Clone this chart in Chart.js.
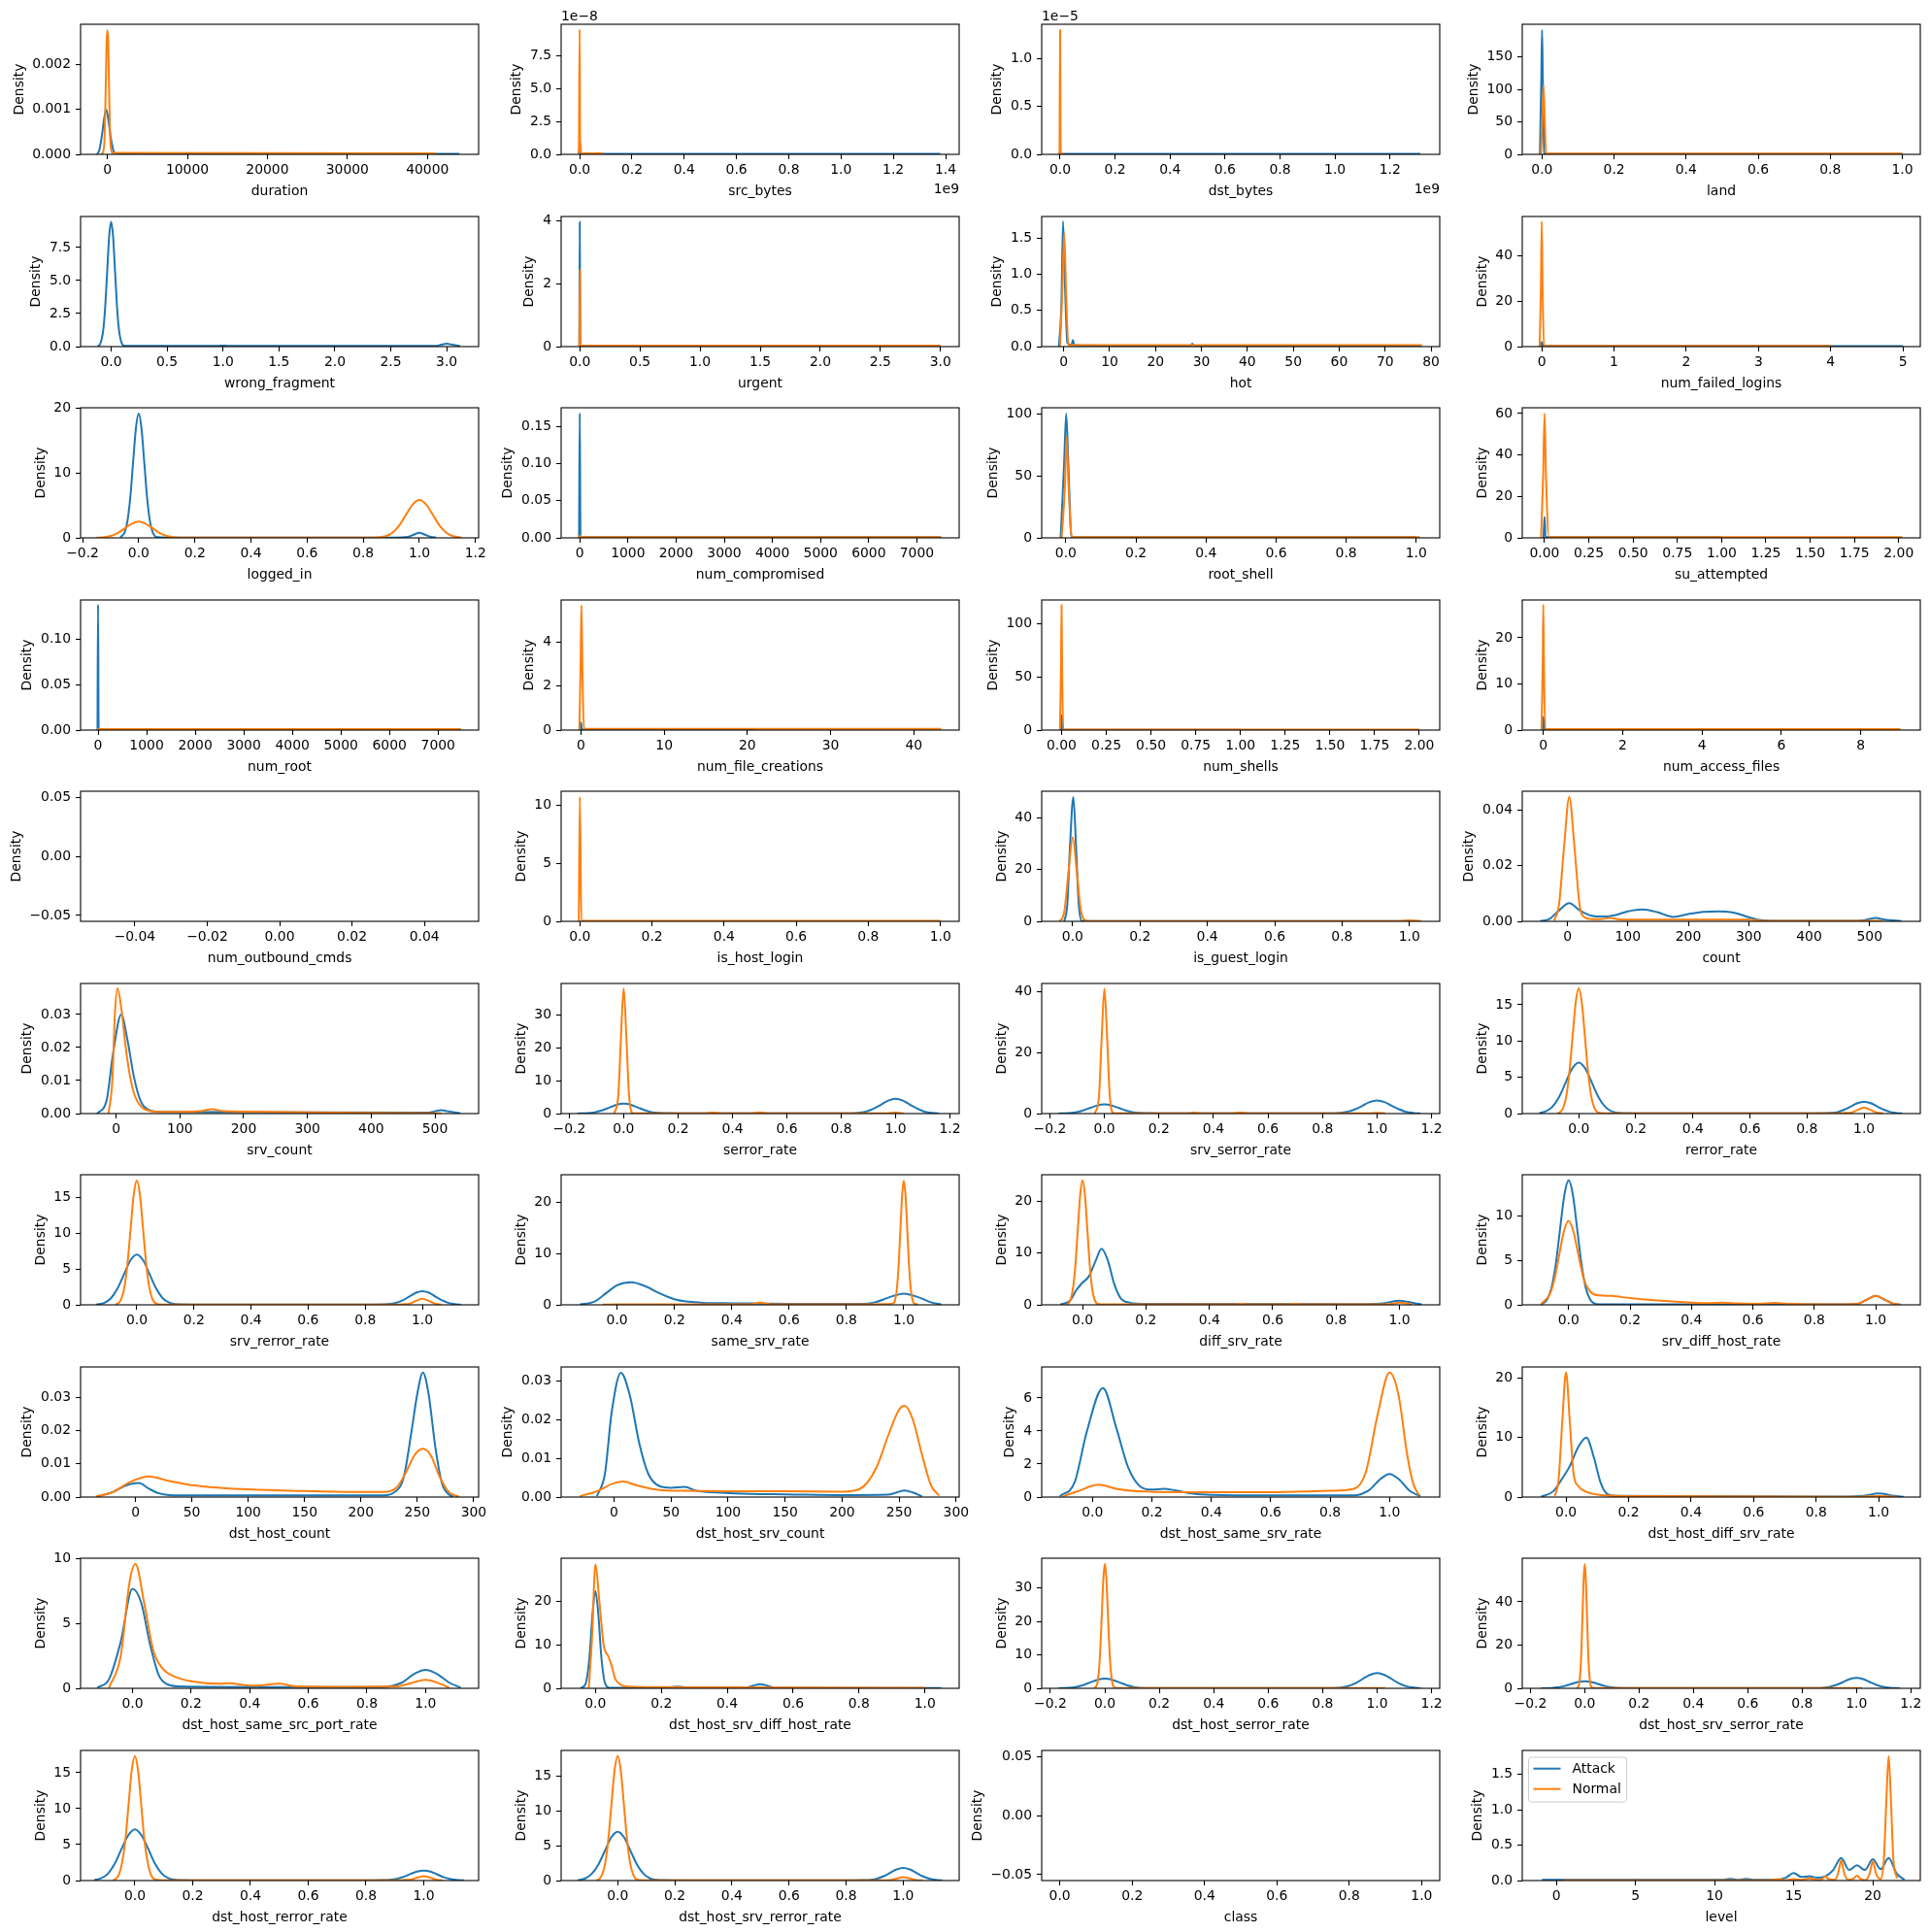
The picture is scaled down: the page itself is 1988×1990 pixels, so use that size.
<!DOCTYPE html>
<html>
<head>
<meta charset="utf-8">
<script src="https://cdn.jsdelivr.net/npm/chart.js@4.4.0/dist/chart.umd.min.js"></script>
<style>
  html,body{margin:0;padding:0;background:#fff;}
  body{width:1988px;height:1990px;position:relative;overflow:hidden;}
  canvas{position:absolute;}
</style>
</head>
<body>
<script>
// ---------------- categories ----------------
const features = ["duration","src_bytes","dst_bytes","land","wrong_fragment","urgent","hot","num_failed_logins",
  "logged_in","num_compromised","root_shell","su_attempted","num_root","num_file_creations","num_shells","num_access_files",
  "num_outbound_cmds","is_host_login","is_guest_login","count","srv_count","serror_rate","srv_serror_rate","rerror_rate",
  "srv_rerror_rate","same_srv_rate","diff_srv_rate","srv_diff_host_rate","dst_host_count","dst_host_srv_count","dst_host_same_srv_rate","dst_host_diff_srv_rate",
  "dst_host_same_src_port_rate","dst_host_srv_diff_host_rate","dst_host_serror_rate","dst_host_srv_serror_rate","dst_host_rerror_rate","dst_host_srv_rerror_rate","class","level"];
const seriesNames = ["Attack","Normal"];

// ---------------- tick labels ----------------
const xt_duration = ["0","10000","20000","30000","40000"];
const xt_bytes14 = ["0.0","0.2","0.4","0.6","0.8","1.0","1.2","1.4"];
const xt_bytes12 = ["0.0","0.2","0.4","0.6","0.8","1.0","1.2"];
const xt_unit = ["0.0","0.2","0.4","0.6","0.8","1.0"];
const xt_unitWide = ["\u22120.2","0.0","0.2","0.4","0.6","0.8","1.0","1.2"];
const xt_three = ["0.0","0.5","1.0","1.5","2.0","2.5","3.0"];
const xt_hot = ["0","10","20","30","40","50","60","70","80"];
const xt_five = ["0","1","2","3","4","5"];
const xt_7000 = ["0","1000","2000","3000","4000","5000","6000","7000"];
const xt_two = ["0.00","0.25","0.50","0.75","1.00","1.25","1.50","1.75","2.00"];
const xt_forty = ["0","10","20","30","40"];
const xt_eight = ["0","2","4","6","8"];
const xt_outbound = ["\u22120.04","\u22120.02","0.00","0.02","0.04"];
const xt_500 = ["0","100","200","300","400","500"];
const xt_300 = ["0","50","100","150","200","250","300"];
const xt_level = ["0","5","10","15","20"];

const yt_duration = ["0.000","0.001","0.002"];
const yt_25 = ["0.0","2.5","5.0","7.5"];
const yt_half15 = ["0.0","0.5","1.0","1.5"];
const yt_half10 = ["0.0","0.5","1.0"];
const yt_150 = ["0","50","100","150"];
const yt_100 = ["0","50","100"];
const yt_024 = ["0","2","4"];
const yt_0246 = ["0","2","4","6"];
const yt_0_40 = ["0","20","40"];
const yt_0_60 = ["0","20","40","60"];
const yt_0_20 = ["0","10","20"];
const yt_0_30 = ["0","10","20","30"];
const yt_0_10 = ["0","5","10"];
const yt_0_15 = ["0","5","10","15"];
const yt_015 = ["0.00","0.05","0.10","0.15"];
const yt_010 = ["0.00","0.05","0.10"];
const yt_empty = ["\u22120.05","0.00","0.05"];
const yt_004 = ["0.00","0.02","0.04"];
const yt_003 = ["0.00","0.01","0.02","0.03"];

// ---------------- series values [x, density] ----------------
const attack_duration = [[-1300,0],[-1000,0.0001],[-700,0.0004],[-400,0.0008],[-150,0.001],[100,0.0008],[400,0.0004],[700,0.00012],[1000,0.00003],[2000,0.00002],[44000,0.00001]];
const normal_duration = [[-700,0],[-400,0.0002],[-250,0.0011],[-100,0.0025],[0,0.00277],[100,0.0025],[250,0.0011],[400,0.0002],[700,0.00003],[41000,0.00002]];
const attack_src_bytes = [[-0.004,0],[0,0.55],[0.004,0.05],[1.38,0.03]];
const normal_src_bytes = [[-0.003,0],[0,9.5],[0.002,0.3],[0.003,0.93],[0.005,0.1],[0.09,0.08]];
const attack_dst_bytes = [[-0.003,0],[0,0.02],[0.003,0.005],[1.31,0.005]];
const normal_dst_bytes = [[-0.002,0],[0,1.296],[0.002,0.006],[0.011,0.005]];
const attack_land = [[-0.006,0],[-0.002,120],[0,191],[0.002,120],[0.006,2],[0.01,0.8],[1.0,0.8]];
const normal_land = [[-0.003,0],[0.001,60],[0.004,106],[0.007,60],[0.011,1],[1.0,1]];
const attack_wrong_fragment = [[-0.12,0.03],[-0.1,0.16],[-0.07,1.28],[-0.0525,3.07],[-0.035,5.73],[-0.0175,8.34],[0,9.45],[0.0175,8.34],[0.035,5.73],[0.0525,3.07],[0.07,1.28],[0.1,0.16],[0.12,0.05],[0.95,0.05],[1.0,0.08],[1.05,0.05],[2.9,0.05],[2.95,0.14],[3.0,0.22],[3.05,0.14],[3.12,0.03]];
const attack_urgent = [[-0.004,0],[0,3.95],[0.004,0.02],[3.0,0.01]];
const normal_urgent = [[-0.003,0],[0.002,2.45],[0.006,0.03],[3.0,0.03]];
const attack_hot = [[-1.05,0],[-0.5,0.6],[-0.15,1.737],[0.25,0.9],[0.8,0.05],[1.7,0.02],[2.0,0.09],[2.3,0.02],[27.6,0.01],[28,0.04],[28.4,0.01],[78,0.01]];
const normal_hot = [[-0.8,0],[-0.3,0.8],[0.1,1.57],[0.5,0.8],[1.0,0.02],[78,0.02]];
const attack_num_failed_logins = [[-0.02,0],[0,2],[0.02,0.2],[5.0,0.2]];
const normal_num_failed_logins = [[-0.03,0],[-0.012,25],[0,55],[0.012,25],[0.03,0.3],[4.0,0.3]];
const attack_logged_in = [[-0.065,0.1],[-0.05,0.84],[-0.04,2.6],[-0.03,6.2],[-0.02,11.6],[-0.01,16.9],[0,19.2],[0.01,16.9],[0.02,11.6],[0.03,6.2],[0.04,2.6],[0.05,0.84],[0.065,0.1],[0.1,0.05],[0.92,0.05],[0.94,0.06],[0.96,0.15],[0.98,0.48],[1.0,0.78],[1.02,0.48],[1.04,0.15],[1.06,0.05]];
const normal_logged_in = [[-0.15,0.02],[-0.12,0.11],[-0.096,0.34],[-0.072,0.81],[-0.048,1.52],[-0.024,2.2],[0,2.5],[0.024,2.2],[0.048,1.52],[0.072,0.81],[0.096,0.34],[0.12,0.11],[0.15,0.03],[0.2,0.02],[0.8,0.02],[0.85,0.06],[0.88,0.26],[0.904,0.79],[0.928,1.9],[0.952,3.55],[0.976,5.16],[1.0,5.85],[1.024,5.16],[1.048,3.55],[1.072,1.9],[1.096,0.79],[1.12,0.26],[1.15,0.05]];
const attack_num_compromised = [[-15,0],[0,0.168],[15,0.001],[7500,0.001]];
const normal_num_compromised = [[-15,0],[0,0.003],[15,0.001],[7500,0.001]];
const attack_root_shell = [[-0.015,0],[-0.005,60],[0.001,100.5],[0.007,60],[0.016,0.5],[1.0,0.5]];
const normal_root_shell = [[-0.012,0],[-0.003,40],[0.002,81.7],[0.008,40],[0.017,0.6],[1.01,0.6]];
const attack_su_attempted = [[-0.006,0],[0,10.2],[0.006,0.3],[1.0,0.3]];
const normal_su_attempted = [[-0.02,0],[-0.008,30],[0,60],[0.008,30],[0.025,0.4],[2.02,0.4]];
const attack_num_root = [[-12,0],[0,0.138],[12,0.0005],[7470,0.0005]];
const normal_num_root = [[-12,0],[0,0.001],[12,0.001],[7470,0.001]];
const attack_num_file_creations = [[-0.12,0],[0,0.34],[0.12,0.02],[21,0.02]];
const normal_num_file_creations = [[-0.2,0],[-0.05,3],[0.05,5.67],[0.18,2.5],[0.35,0.05],[43.3,0.05]];
const attack_num_shells = [[-0.005,0],[0,14.2],[0.005,0.2],[1.0,0.2]];
const normal_num_shells = [[-0.009,0],[-0.003,60],[0,117.8],[0.003,60],[0.01,0.5],[2.0,0.5]];
const attack_num_access_files = [[-0.025,0],[0,2.84],[0.025,0.1],[2.0,0.1]];
const normal_num_access_files = [[-0.045,0],[-0.015,14],[0,27.2],[0.015,14],[0.05,0.2],[9.0,0.2]];
const normal_is_host_login = [[-0.003,0],[0,10.7],[0.004,0.05],[1.0,0.05]];
const attack_is_guest_login = [[-0.025,0],[-0.016,6.5],[-0.008,29],[0.002,48],[0.01,29],[0.018,6.5],[0.027,0.2],[0.05,0.1],[1.0,0.1]];
const normal_is_guest_login = [[-0.04,0.1],[-0.03,1.4],[-0.024,4.4],[-0.012,19.6],[0,32.4],[0.012,19.6],[0.024,4.4],[0.036,0.5],[0.05,0.1],[0.97,0.1],[0.985,0.25],[1.0,0.35],[1.015,0.25],[1.035,0.1]];
const attack_count = [[-45,0.0001],[-30,0.0008],[-15,0.0037],[3,0.0065],[20,0.004],[40,0.002],[60,0.0017],[80,0.0023],[100,0.0036],[125,0.0043],[150,0.0032],[175,0.0016],[200,0.0026],[225,0.0034],[250,0.0036],[275,0.0031],[300,0.0015],[320,0.0004],[350,0.0002],[480,0.0002],[495,0.0006],[510,0.0012],[525,0.0006],[553,0.0001]];
const normal_count = [[-22,0.0003],[-14,0.006],[-5.5,0.027],[3,0.0447],[11.5,0.027],[20,0.006],[28,0.0015],[40,0.0008],[55,0.0008],[70,0.0012],[85,0.0007],[100,0.0006],[300,0.0006],[320,0.0002],[520,0.0002]];
const attack_srv_count = [[-30,0],[-15,0.004],[-5,0.018],[8,0.030],[18,0.022],[28,0.011],[38,0.004],[50,0.0012],[70,0.0005],[490,0.0003],[500,0.0007],[510,0.001],[520,0.0007],[540,0.0001]];
const normal_srv_count = [[-12,0],[-6,0.01],[-2,0.03],[2,0.0379],[8,0.032],[15,0.02],[22,0.011],[30,0.005],[40,0.002],[60,0.0006],[100,0.0005],[130,0.0007],[150,0.0013],[170,0.0007],[200,0.0006],[300,0.0004],[400,0.0002],[510,0.0001]];
const attack_serror_rate = [[-0.17,0.02],[-0.13,0.15],[-0.106,0.41],[-0.08,0.97],[-0.053,1.82],[-0.027,2.65],[0,3.0],[0.027,2.65],[0.053,1.82],[0.08,0.97],[0.106,0.41],[0.15,0.12],[0.2,0.08],[0.8,0.08],[0.841,0.1],[0.868,0.28],[0.894,0.68],[0.92,1.5],[0.947,2.73],[0.973,3.97],[1.0,4.5],[1.027,3.97],[1.053,2.73],[1.08,1.5],[1.106,0.61],[1.133,0.2],[1.16,0.03]];
const normal_serror_rate = [[-0.035,0.1],[-0.02,5.2],[-0.01,23.2],[0,38.2],[0.01,23.2],[0.02,5.2],[0.035,0.1],[0.3,0.1],[0.33,0.3],[0.36,0.1],[0.47,0.1],[0.5,0.4],[0.53,0.1],[0.97,0.1],[1.0,0.3],[1.03,0.1]];
const attack_srv_serror_rate = [[-0.17,0.02],[-0.13,0.15],[-0.106,0.41],[-0.08,0.97],[-0.053,1.82],[-0.027,2.65],[0,3.0],[0.027,2.65],[0.053,1.82],[0.08,0.97],[0.106,0.41],[0.15,0.12],[0.2,0.08],[0.8,0.08],[0.841,0.1],[0.868,0.27],[0.894,0.65],[0.92,1.43],[0.947,2.6],[0.973,3.8],[1.0,4.3],[1.027,3.8],[1.053,2.6],[1.08,1.43],[1.106,0.58],[1.133,0.19],[1.16,0.03]];
const normal_srv_serror_rate = [[-0.035,0.1],[-0.02,5.5],[-0.01,24.9],[0,41],[0.01,24.9],[0.02,5.5],[0.035,0.1],[0.3,0.1],[0.33,0.3],[0.36,0.1],[0.47,0.1],[0.5,0.35],[0.53,0.1],[0.97,0.1],[1.0,0.25],[1.03,0.1]];
const attack_rerror_rate = [[-0.138,0.08],[-0.115,0.31],[-0.092,0.95],[-0.069,2.28],[-0.046,4.26],[-0.023,6.2],[0,7.03],[0.023,6.2],[0.046,4.26],[0.069,2.28],[0.092,0.95],[0.115,0.31],[0.138,0.1],[0.2,0.05],[0.82,0.05],[0.862,0.07],[0.885,0.1],[0.908,0.22],[0.931,0.53],[0.954,0.98],[0.977,1.43],[1.0,1.62],[1.023,1.43],[1.046,0.98],[1.069,0.53],[1.092,0.22],[1.115,0.07],[1.134,0.02]];
const normal_rerror_rate = [[-0.075,0.03],[-0.066,0.19],[-0.055,0.76],[-0.044,2.33],[-0.033,5.6],[-0.022,10.46],[-0.011,15.2],[0,17.25],[0.011,15.2],[0.022,10.46],[0.033,5.6],[0.044,2.33],[0.055,0.76],[0.066,0.19],[0.09,0.05],[0.92,0.05],[0.944,0.1],[0.956,0.14],[0.978,0.52],[1.0,0.8],[1.022,0.52],[1.044,0.14],[1.066,0.04]];
const attack_srv_rerror_rate = [[-0.142,0.05],[-0.113,0.3],[-0.09,0.95],[-0.068,2.27],[-0.045,4.25],[-0.023,6.16],[0,7.0],[0.023,6.16],[0.045,4.25],[0.068,2.27],[0.09,0.95],[0.113,0.31],[0.135,0.1],[0.2,0.05],[0.82,0.05],[0.865,0.06],[0.888,0.12],[0.91,0.3],[0.933,0.66],[0.955,1.18],[0.978,1.7],[1.0,1.9],[1.023,1.7],[1.045,1.18],[1.068,0.66],[1.09,0.29],[1.113,0.1],[1.135,0.03]];
const normal_srv_rerror_rate = [[-0.075,0.03],[-0.066,0.19],[-0.055,0.76],[-0.044,2.35],[-0.033,5.63],[-0.022,10.52],[-0.011,15.3],[0,17.35],[0.011,15.3],[0.022,10.52],[0.033,5.63],[0.044,2.35],[0.055,0.76],[0.066,0.19],[0.09,0.05],[0.92,0.05],[0.945,0.11],[0.956,0.16],[0.978,0.55],[1.0,0.86],[1.022,0.55],[1.044,0.16],[1.066,0.04]];
const attack_same_srv_rate = [[-0.13,0.05],[-0.08,0.6],[-0.04,2.2],[0,3.8],[0.05,4.4],[0.1,3.6],[0.15,2.2],[0.2,1.1],[0.25,0.6],[0.3,0.4],[0.4,0.3],[0.5,0.25],[0.6,0.2],[0.85,0.2],[0.9,0.5],[0.95,1.5],[1.0,2.2],[1.05,1.5],[1.1,0.4],[1.13,0.1]];
const normal_same_srv_rate = [[-0.05,0.05],[0.0,0.1],[0.45,0.1],[0.476,0.2],[0.488,0.35],[0.5,0.45],[0.512,0.35],[0.524,0.2],[0.55,0.1],[0.9,0.1],[0.94,0.15],[0.964,0.3],[0.97,1.06],[0.976,3.27],[0.982,7.86],[0.988,14.68],[0.994,21.36],[1.0,24.2],[1.006,21.36],[1.012,14.68],[1.018,7.86],[1.024,3.27],[1.03,1.06],[1.036,0.27],[1.05,0.05]];
const attack_diff_srv_rate = [[-0.07,0.05],[-0.04,0.8],[-0.02,2.8],[0,4.3],[0.02,5.5],[0.04,8.3],[0.06,10.8],[0.08,8.5],[0.1,4],[0.12,1.3],[0.15,0.4],[0.2,0.2],[0.9,0.15],[0.95,0.3],[1.0,0.8],[1.05,0.3],[1.07,0.1]];
const normal_diff_srv_rate = [[-0.05,0.05],[-0.045,0.27],[-0.0375,1.05],[-0.03,3.25],[-0.0225,7.8],[-0.015,14.6],[-0.0075,21.2],[0,24],[0.0075,21.2],[0.015,14.6],[0.0225,7.8],[0.03,3.25],[0.0375,1.05],[0.045,0.27],[0.06,0.1],[0.48,0.1],[0.5,0.2],[0.52,0.1],[0.65,0.1],[0.67,0.2],[0.69,0.1],[0.96,0.1],[1.0,0.4],[1.04,0.1]];
const attack_srv_diff_host_rate = [[-0.09,0.05],[-0.084,0.15],[-0.07,0.61],[-0.056,1.89],[-0.042,4.53],[-0.028,8.47],[-0.014,12.3],[0,13.96],[0.014,12.3],[0.028,8.47],[0.042,4.53],[0.056,1.89],[0.07,0.61],[0.084,0.15],[0.1,0.05],[0.9,0.05],[0.944,0.14],[0.972,0.6],[1.0,1.0],[1.028,0.6],[1.056,0.14],[1.08,0.02]];
const normal_srv_diff_host_rate = [[-0.09,0.1],[-0.06,1.27],[-0.045,3.06],[-0.03,5.71],[-0.015,8.31],[0,9.42],[0.015,8.3],[0.03,5.9],[0.05,2.8],[0.07,1.5],[0.1,1.05],[0.14,1.0],[0.2,0.75],[0.3,0.45],[0.4,0.25],[0.45,0.2],[0.5,0.25],[0.55,0.15],[0.62,0.12],[0.67,0.22],[0.72,0.1],[0.9,0.05],[0.944,0.14],[0.972,0.6],[1.0,1.0],[1.028,0.6],[1.056,0.14],[1.08,0.02]];
const attack_dst_host_count = [[-35,0.0001],[-20,0.0015],[-10,0.0033],[3,0.0042],[12,0.0025],[20,0.0012],[30,0.0006],[50,0.0005],[220,0.0005],[230,0.0015],[238,0.006],[245,0.02],[250,0.031],[255,0.0374],[260,0.031],[266,0.015],[272,0.004],[278,0.0008],[282,0.0001]];
const normal_dst_host_count = [[-35,0.0002],[-20,0.0015],[-5,0.0045],[12,0.0062],[30,0.0048],[50,0.0036],[75,0.0028],[100,0.0023],[150,0.0018],[200,0.0015],[220,0.0015],[232,0.003],[240,0.0075],[248,0.0128],[255,0.0145],[262,0.0125],[270,0.006],[278,0.0015],[287,0.0001]];
const attack_dst_host_srv_count = [[-15,0.0002],[-8,0.006],[-2,0.022],[6,0.032],[14,0.026],[22,0.014],[30,0.006],[40,0.0028],[50,0.0024],[62,0.0026],[72,0.0016],[90,0.0012],[120,0.0008],[150,0.0007],[200,0.0005],[240,0.0006],[248,0.0012],[255,0.0017],[262,0.0012],[270,0.0002]];
const normal_dst_host_srv_count = [[-30,0.0002],[-15,0.0015],[0,0.0036],[8,0.004],[20,0.003],[40,0.0018],[60,0.0016],[100,0.0015],[150,0.0015],[200,0.0014],[215,0.002],[230,0.0075],[240,0.0155],[250,0.0225],[255,0.0235],[262,0.02],[270,0.011],[278,0.003],[285,0.0004]];
const attack_dst_host_same_srv_rate = [[-0.11,0.05],[-0.06,0.9],[-0.02,3.9],[0.035,6.6],[0.08,4.2],[0.12,1.8],[0.16,0.65],[0.2,0.45],[0.24,0.5],[0.28,0.4],[0.34,0.2],[0.4,0.13],[0.6,0.1],[0.88,0.1],[0.93,0.4],[0.97,1.1],[1.0,1.4],[1.03,1.1],[1.07,0.35],[1.104,0.05]];
const normal_dst_host_same_srv_rate = [[-0.1,0.05],[-0.05,0.35],[0.02,0.75],[0.08,0.5],[0.15,0.35],[0.3,0.3],[0.6,0.3],[0.8,0.38],[0.88,0.5],[0.92,1.5],[0.96,5],[1.0,7.54],[1.03,6.2],[1.06,2.5],[1.08,0.8],[1.1,0.1]];
const attack_dst_host_diff_srv_rate = [[-0.08,0.05],[-0.04,1.0],[-0.01,3.3],[0.01,5],[0.04,8.5],[0.065,10],[0.09,6.5],[0.11,2.5],[0.13,0.6],[0.16,0.2],[0.9,0.1],[0.95,0.2],[1.0,0.6],[1.05,0.2],[1.08,0.05]];
const normal_dst_host_diff_srv_rate = [[-0.036,0.2],[-0.024,2.8],[-0.012,12.7],[0,21],[0.012,12.7],[0.024,4],[0.04,1.8],[0.06,1.0],[0.1,0.4],[0.2,0.15],[0.9,0.05],[1.0,0.15],[1.06,0.05]];
const attack_dst_host_same_src_port_rate = [[-0.12,0.05],[-0.08,0.7],[-0.04,3.6],[0,7.68],[0.03,6.6],[0.06,3.4],[0.09,1.0],[0.12,0.3],[0.16,0.15],[0.5,0.1],[0.85,0.1],[0.92,0.45],[0.96,1.1],[1.0,1.43],[1.04,1.1],[1.08,0.45],[1.12,0.05]];
const normal_dst_host_same_src_port_rate = [[-0.08,0.05],[-0.04,2.5],[-0.01,8.2],[0.01,9.6],[0.04,6.6],[0.07,3.0],[0.1,1.6],[0.15,0.85],[0.2,0.55],[0.3,0.35],[0.33,0.4],[0.38,0.25],[0.42,0.2],[0.5,0.35],[0.56,0.15],[0.7,0.12],[0.9,0.15],[0.95,0.4],[1.0,0.65],[1.05,0.35],[1.08,0.05]];
const attack_dst_host_srv_diff_host_rate = [[-0.045,0.05],[-0.03,1.0],[-0.018,7.2],[-0.009,16.9],[0,22.3],[0.009,16.9],[0.018,7.2],[0.03,1.0],[0.045,0.1],[0.2,0.1],[0.25,0.4],[0.3,0.1],[0.45,0.1],[0.5,0.97],[0.55,0.1],[1.05,0.05]];
const normal_dst_host_srv_diff_host_rate = [[-0.02,0.05],[-0.01,12],[0,28.5],[0.012,20],[0.025,10],[0.04,7.2],[0.05,5],[0.06,2.2],[0.08,0.7],[0.1,0.4],[0.2,0.3],[0.4,0.2],[0.6,0.15],[1.0,0.1]];
const attack_dst_host_serror_rate = [[-0.17,0.02],[-0.134,0.13],[-0.107,0.39],[-0.08,0.94],[-0.054,1.76],[-0.027,2.56],[0,2.9],[0.027,2.56],[0.054,1.76],[0.08,0.94],[0.107,0.39],[0.15,0.1],[0.2,0.07],[0.8,0.07],[0.84,0.1],[0.866,0.25],[0.893,0.66],[0.92,1.48],[0.946,2.76],[0.973,4.0],[1.0,4.55],[1.027,4.0],[1.054,2.76],[1.08,1.48],[1.107,0.62],[1.134,0.2],[1.16,0.05]];
const normal_dst_host_serror_rate = [[-0.04,0.05],[-0.033,0.4],[-0.0275,1.6],[-0.022,5.0],[-0.0165,12.1],[-0.011,22.6],[-0.0055,32.8],[0,37.2],[0.0055,32.8],[0.011,22.6],[0.0165,12.1],[0.022,5.0],[0.0275,1.6],[0.033,0.4],[0.045,0.1],[1.03,0.1]];
const attack_dst_host_srv_serror_rate = [[-0.16,0.02],[-0.123,0.15],[-0.098,0.45],[-0.074,1.07],[-0.049,2.0],[-0.025,2.91],[0,3.3],[0.025,2.91],[0.049,2.0],[0.074,1.07],[0.098,0.45],[0.14,0.1],[0.2,0.07],[0.8,0.07],[0.853,0.1],[0.877,0.25],[0.902,0.7],[0.926,1.56],[0.951,2.91],[0.975,4.24],[1.0,4.8],[1.025,4.24],[1.049,2.91],[1.074,1.56],[1.098,0.65],[1.123,0.21],[1.16,0.03]];
const normal_dst_host_srv_serror_rate = [[-0.03,0.05],[-0.024,0.6],[-0.02,2.5],[-0.016,7.8],[-0.012,18.7],[-0.008,34.9],[-0.004,50.7],[0,57.5],[0.004,50.7],[0.008,34.9],[0.012,18.7],[0.016,7.8],[0.02,2.5],[0.024,0.6],[0.035,0.1],[1.02,0.1]];
const attack_dst_host_rerror_rate = [[-0.14,0.06],[-0.117,0.31],[-0.093,0.97],[-0.07,2.32],[-0.047,4.33],[-0.023,6.3],[0,7.14],[0.023,6.3],[0.047,4.33],[0.07,2.32],[0.093,0.97],[0.117,0.33],[0.14,0.1],[0.2,0.05],[0.82,0.05],[0.86,0.07],[0.883,0.11],[0.907,0.24],[0.93,0.5],[0.953,0.9],[0.977,1.26],[1.0,1.4],[1.023,1.26],[1.047,0.85],[1.07,0.45],[1.093,0.19],[1.117,0.06],[1.14,0.02]];
const normal_dst_host_rerror_rate = [[-0.075,0.03],[-0.067,0.2],[-0.056,0.76],[-0.045,2.34],[-0.033,5.62],[-0.022,10.5],[-0.011,15.3],[0,17.3],[0.011,15.3],[0.022,10.5],[0.033,5.62],[0.045,2.34],[0.056,0.76],[0.067,0.2],[0.09,0.05],[0.92,0.05],[0.945,0.1],[0.955,0.13],[0.978,0.4],[1.0,0.6],[1.022,0.4],[1.045,0.1],[1.065,0.03]];
const attack_dst_host_srv_rerror_rate = [[-0.14,0.05],[-0.113,0.31],[-0.091,0.95],[-0.068,2.27],[-0.045,4.25],[-0.023,6.16],[0,7.0],[0.023,6.16],[0.045,4.25],[0.068,2.27],[0.091,0.95],[0.113,0.31],[0.136,0.1],[0.2,0.05],[0.82,0.05],[0.864,0.06],[0.887,0.12],[0.909,0.29],[0.932,0.63],[0.955,1.12],[0.977,1.6],[1.0,1.8],[1.023,1.6],[1.045,1.12],[1.068,0.63],[1.091,0.27],[1.113,0.09],[1.136,0.02]];
const normal_dst_host_srv_rerror_rate = [[-0.075,0.03],[-0.065,0.2],[-0.055,0.78],[-0.044,2.42],[-0.033,5.8],[-0.022,10.83],[-0.011,15.76],[0,17.86],[0.011,15.76],[0.022,10.83],[0.033,5.8],[0.044,2.42],[0.055,0.78],[0.065,0.2],[0.09,0.05],[0.92,0.05],[0.956,0.08],[0.978,0.32],[1.0,0.47],[1.022,0.32],[1.044,0.08],[1.065,0.03]];
const attack_level = [[-0.9,0.01],[10.5,0.01],[11,0.025],[11.5,0.01],[12,0.025],[12.5,0.01],[13.8,0.01],[14.5,0.04],[15,0.105],[15.5,0.05],[16,0.06],[16.5,0.04],[17,0.06],[17.5,0.15],[18,0.32],[18.5,0.15],[19,0.215],[19.5,0.15],[20,0.3],[20.5,0.16],[21,0.32],[21.5,0.1],[22,0.01]];
const normal_level = [[0.4,0.005],[13.5,0.005],[14,0.02],[14.5,0.005],[15,0.02],[15.5,0.01],[16,0.03],[16.5,0.01],[16.8,0.02],[17,0.06],[17.2,0.02],[17.6,0.01],[17.8,0.1],[17.9,0.2],[18,0.284],[18.1,0.2],[18.2,0.1],[18.45,0.01],[18.8,0.03],[19,0.069],[19.2,0.03],[19.5,0.005],[19.8,0.1],[19.9,0.2],[20,0.27],[20.1,0.2],[20.2,0.1],[20.5,0.02],[20.7,0.3],[20.85,1.1],[21,1.758],[21.15,1.1],[21.3,0.3],[21.53,0.03]];

// ---------------- per-panel axis setup ----------------
// [attack, normal, xRange, xTicks, yRange, yTicks, xOffsetText, yOffsetText]
const panelAxes = [
  [attack_duration, normal_duration, [-3350,46400], xt_duration, [0,0.0029], yt_duration],
  [attack_src_bytes, normal_src_bytes, [-0.071,1.452], xt_bytes14, [0,9.88], yt_25, "1e9", "1e\u22128"],
  [attack_dst_bytes, normal_dst_bytes, [-0.067,1.381], xt_bytes12, [0,1.357], yt_half10, "1e9", "1e\u22125"],
  [attack_land, normal_land, [-0.055,1.05], xt_unit, [0,200], yt_150],
  [attack_wrong_fragment, null, [-0.273,3.285], xt_three, [0,9.85], yt_25],
  [attack_urgent, normal_urgent, [-0.155,3.155], xt_three, [0,4.13], yt_024],
  [attack_hot, normal_hot, [-4.8,81.9], xt_hot, [0,1.805], yt_half15],
  [attack_num_failed_logins, normal_num_failed_logins, [-0.27,5.24], xt_five, [0,57.2], yt_0_40],
  [attack_logged_in, normal_logged_in, [-0.207,1.211], xt_unitWide, [0,20.1], yt_0_20],
  [attack_num_compromised, normal_num_compromised, [-387,7878], xt_7000, [0,0.1753], yt_015],
  [attack_root_shell, normal_root_shell, [-0.069,1.067], xt_unit, [0,105.2], yt_100],
  [attack_su_attempted, normal_su_attempted, [-0.126,2.122], xt_two, [0,62.8], yt_0_60],
  [attack_num_root, normal_num_root, [-360,7835], xt_7000, [0,0.143], yt_010],
  [attack_num_file_creations, normal_num_file_creations, [-2.39,45.46], xt_forty, [0,5.9], yt_024],
  [attack_num_shells, normal_num_shells, [-0.111,2.114], xt_two, [0,122.5], yt_100],
  [attack_num_access_files, normal_num_access_files, [-0.53,9.5], xt_eight, [0,28.2], yt_0_20],
  [null, null, [-0.055,0.055], xt_outbound, [-0.055,0.055], yt_empty],
  [null, normal_is_host_login, [-0.052,1.052], xt_unit, [0,11.2], yt_0_10],
  [attack_is_guest_login, normal_is_guest_login, [-0.092,1.09], xt_unit, [0,50.25], yt_0_40],
  [attack_count, normal_count, [-74.8,584], xt_500, [0,0.0467], yt_004],
  [attack_srv_count, normal_srv_count, [-55.8,568.5], xt_500, [0,0.0394], yt_003],
  [attack_serror_rate, normal_serror_rate, [-0.23,1.234], xt_unitWide, [0,39.7], yt_0_30],
  [attack_srv_serror_rate, normal_srv_serror_rate, [-0.23,1.23], xt_unitWide, [0,42.7], yt_0_40],
  [attack_rerror_rate, normal_rerror_rate, [-0.198,1.197], xt_unit, [0,17.93], yt_0_15],
  [attack_srv_rerror_rate, normal_srv_rerror_rate, [-0.197,1.197], xt_unit, [0,18.16], yt_0_15],
  [attack_same_srv_rate, normal_same_srv_rate, [-0.195,1.193], xt_unit, [0,25.4], yt_0_20],
  [attack_diff_srv_rate, normal_diff_srv_rate, [-0.129,1.127], xt_unit, [0,25.1], yt_0_20],
  [attack_srv_diff_host_rate, normal_srv_diff_host_rate, [-0.151,1.145], xt_unit, [0,14.6], yt_0_10],
  [attack_dst_host_count, normal_dst_host_count, [-48.7,304.4], xt_300, [0,0.0391], yt_003],
  [attack_dst_host_srv_count, normal_dst_host_srv_count, [-46.4,302.7], xt_300, [0,0.0335], yt_003],
  [attack_dst_host_same_srv_rate, normal_dst_host_same_srv_rate, [-0.171,1.169], xt_unit, [0,7.88], yt_0246],
  [attack_dst_host_diff_srv_rate, normal_dst_host_diff_srv_rate, [-0.14,1.133], xt_unit, [0,21.9], yt_0_20],
  [attack_dst_host_same_src_port_rate, normal_dst_host_same_src_port_rate, [-0.177,1.181], xt_unit, [0,10.05], yt_0_10],
  [attack_dst_host_srv_diff_host_rate, normal_dst_host_srv_diff_host_rate, [-0.104,1.104], xt_unit, [0,29.9], yt_0_20],
  [attack_dst_host_serror_rate, normal_dst_host_serror_rate, [-0.232,1.23], xt_unitWide, [0,38.9], yt_0_30],
  [attack_dst_host_srv_serror_rate, normal_dst_host_srv_serror_rate, [-0.23,1.235], xt_unitWide, [0,60.2], yt_0_40],
  [attack_dst_host_rerror_rate, normal_dst_host_rerror_rate, [-0.188,1.19], xt_unit, [0,18.1], yt_0_15],
  [attack_dst_host_srv_rerror_rate, normal_dst_host_srv_rerror_rate, [-0.198,1.196], xt_unit, [0,18.66], yt_0_15],
  [null, null, [-0.05,1.05], xt_unit, [-0.055,0.055], yt_empty],
  [attack_level, normal_level, [-2.15,23.0], xt_level, [0,1.837], yt_half15]
];

// ---------------- layout & style ----------------
const COLORS = ["#1f77b4", "#ff7f0e"];
const FONT_FAMILY = "'DejaVu Sans', 'Liberation Sans', sans-serif";
const FS = 13.9;
const COL_LEFT = [83, 578, 1073, 1568];
const ROW_TOP0 = 25, ROW_PITCH = 197.55;
const AW = 410, AH = 134;
const PL = 110, PT = 24, PR = 40, PB = 70;

Chart.defaults.font.family = FONT_FAMILY;
Chart.defaults.font.size = FS;
Chart.defaults.color = "#000";

const toNum = s => parseFloat(s.replace("\u2212", "-"));

const framePlugin = {
  id: "frame",
  afterDatasetsDraw(chart) {
    const a = chart.chartArea, ctx = chart.ctx;
    ctx.save();
    ctx.strokeStyle = "#000";
    ctx.lineWidth = 1.1;
    ctx.strokeRect(a.left, a.top, a.right - a.left, a.bottom - a.top);
    ctx.restore();
  }
};
const offsetPlugin = {
  id: "offsetText",
  afterDraw(chart, args, opts) {
    const a = chart.chartArea, ctx = chart.ctx;
    ctx.save();
    ctx.fillStyle = "#000";
    ctx.font = FS + "px " + FONT_FAMILY;
    ctx.textBaseline = "alphabetic";
    if (opts.y) { ctx.textAlign = "left"; ctx.fillText(opts.y, a.left, a.top - 4.5); }
    if (opts.x) { ctx.textAlign = "right"; ctx.fillText(opts.x, a.right, a.bottom + 39.5); }
    ctx.restore();
  }
};
const legendPlugin = {
  id: "boxLegend",
  afterDraw(chart, args, opts) {
    if (!opts.show) return;
    const a = chart.chartArea, ctx = chart.ctx;
    const x0 = a.left + 6.5, y0 = a.top + 7, w = 101, h = 46, r = 3;
    ctx.save();
    ctx.beginPath();
    ctx.moveTo(x0 + r, y0);
    ctx.arcTo(x0 + w, y0, x0 + w, y0 + h, r);
    ctx.arcTo(x0 + w, y0 + h, x0, y0 + h, r);
    ctx.arcTo(x0, y0 + h, x0, y0, r);
    ctx.arcTo(x0, y0, x0 + w, y0, r);
    ctx.closePath();
    ctx.fillStyle = "rgba(255,255,255,0.8)";
    ctx.fill();
    ctx.strokeStyle = "#cccccc";
    ctx.lineWidth = 1;
    ctx.stroke();
    ctx.font = FS + "px " + FONT_FAMILY;
    ctx.textBaseline = "middle";
    ctx.textAlign = "left";
    chart.data.datasets.forEach((d, i) => {
      const y = y0 + 11.7 + i * 21;
      ctx.strokeStyle = d.borderColor;
      ctx.lineWidth = 2;
      ctx.beginPath();
      ctx.moveTo(x0 + 5, y);
      ctx.lineTo(x0 + 33, y);
      ctx.stroke();
      ctx.fillStyle = "#000";
      ctx.fillText(d.label, x0 + 45, y + 0.5);
    });
    ctx.restore();
  }
};

function makeAxis(range, labels, isX, titleText) {
  const vals = labels.map(toNum);
  return {
    type: "linear",
    min: range[0], max: range[1],
    afterBuildTicks: s => { s.ticks = vals.map(v => ({ value: v })); },
    ticks: {
      autoSkip: false, maxRotation: 0, minRotation: 0,
      padding: isX ? 3 : 5,
      color: "#000",
      font: { family: FONT_FAMILY, size: FS },
      callback: v => { const k = vals.indexOf(v); return k >= 0 ? labels[k] : ""; }
    },
    grid: { display: true, drawOnChartArea: false, drawTicks: true, tickLength: 5, tickColor: "#000", tickWidth: 1.1 },
    border: { display: false },
    title: {
      display: true, text: titleText, color: "#000",
      font: { family: FONT_FAMILY, size: FS },
      padding: isX ? { top: 2, bottom: 0 } : { top: 0, bottom: 0 }
    }
  };
}

panelAxes.forEach((p, i) => {
  const [att, nor, xr, xt, yr, yt, xoff, yoff] = p;
  const col = i % 4, row = Math.floor(i / 4);
  const axLeft = COL_LEFT[col];
  const axTop = Math.round(ROW_TOP0 + row * ROW_PITCH);
  const cw = PL + AW + PR, ch = PT + AH + PB;
  const canvas = document.createElement("canvas");
  canvas.width = cw; canvas.height = ch;
  canvas.style.width = cw + "px"; canvas.style.height = ch + "px";
  canvas.style.left = (axLeft - PL) + "px";
  canvas.style.top = (axTop - PT) + "px";
  document.body.appendChild(canvas);

  const datasets = [];
  [att, nor].forEach((s, k) => {
    if (!s) return;
    datasets.push({
      label: seriesNames[k],
      data: s.map(([x, y]) => ({ x, y })),
      borderColor: COLORS[k], backgroundColor: COLORS[k],
      borderWidth: 2, pointRadius: 0, fill: false,
      cubicInterpolationMode: "monotone",
      order: k === 0 ? 1 : 0
    });
  });

  const chart = new Chart(canvas, {
    type: "line",
    data: { datasets },
    options: {
      responsive: false, animation: false, events: [], devicePixelRatio: 1,
      layout: { padding: { left: 0, top: PT, right: PR, bottom: 0 } },
      plugins: {
        legend: { display: false }, tooltip: { enabled: false },
        offsetText: { x: xoff || "", y: yoff || "" },
        boxLegend: { show: features[i] === "level" }
      },
      scales: {
        x: makeAxis(xr, xt, true, features[i]),
        y: makeAxis(yr, yt, false, "Density")
      }
    },
    plugins: [framePlugin, offsetPlugin, legendPlugin]
  });
  // second pass: pin the plot area to the exact axes box
  const a = chart.chartArea;
  chart.options.layout.padding = { left: PL - a.left, top: PT, right: PR, bottom: a.bottom - (PT + AH) };
  chart.update("none");
});
</script>
</body>
</html>
